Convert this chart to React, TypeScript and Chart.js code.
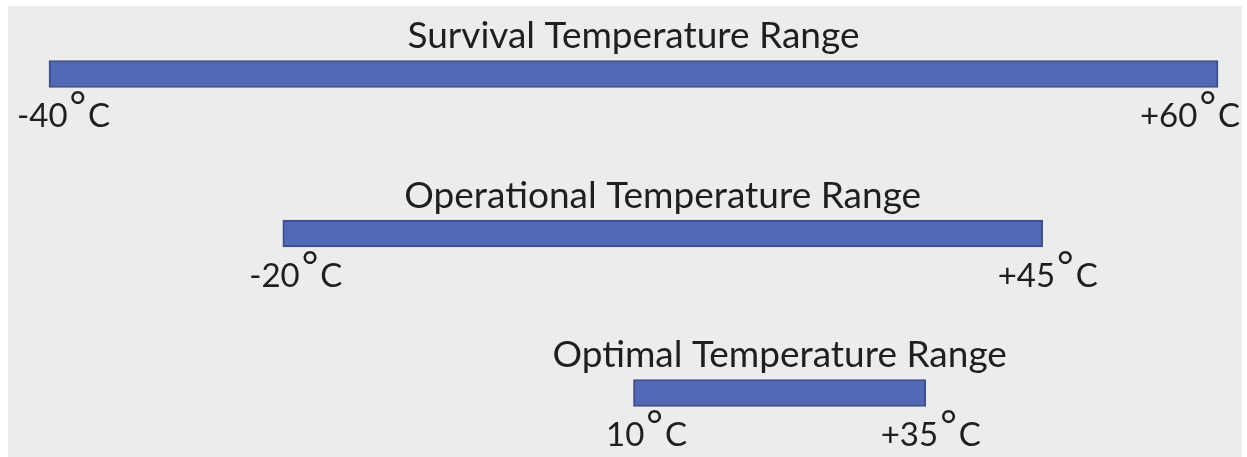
import React, { useEffect, useRef } from "react";
import { Chart, registerables } from "chart.js";

Chart.register(...registerables);

const categories = [
  "Survival Temperature Range",
  "Operational Temperature Range",
  "Optimal Temperature Range",
];
const lowTemps = [-40, -20, 10];
const highTemps = [60, 45, 35];
const lowLabels = ["-40", "-20", "10"];
const highLabels = ["+60", "+45", "+35"];
const axisMin = -40;
const axisMax = 60;

const FONT = "Lato, 'Open Sans', sans-serif";
const TEXT_COLOR = "#1f1f1f";

function drawTemp(ctx: CanvasRenderingContext2D, num: string, anchor: number, baseline: number, minX: number, maxX: number) {
  ctx.save();
  ctx.fillStyle = TEXT_COLOR;
  ctx.textAlign = "left";
  ctx.textBaseline = "alphabetic";
  const numFont = `33px ${FONT}`;
  const degFont = `40px ${FONT}`;
  ctx.font = numFont;
  const wNum = ctx.measureText(num).width;
  const wC = ctx.measureText("C").width;
  ctx.font = degFont;
  const wDeg = ctx.measureText("°").width;
  const gap = 2;
  const total = wNum + gap + wDeg + gap + wC;
  let left = anchor - total / 2;
  if (left < minX) left = minX;
  if (left + total > maxX) left = maxX - total;
  ctx.font = numFont;
  ctx.fillText(num, left, baseline);
  ctx.font = degFont;
  ctx.fillText("°", left + wNum + gap, baseline - 7);
  ctx.font = numFont;
  ctx.fillText("C", left + wNum + gap + wDeg + gap, baseline);
  ctx.restore();
}

const labelPlugin = {
  id: "rangeLabels",
  afterDatasetsDraw(chart: any) {
    const ctx: CanvasRenderingContext2D = chart.ctx;
    const xs = chart.scales.x;
    const ys = chart.scales.y;
    const w = chart.width;
    categories.forEach((name, i) => {
      const cy = ys.getPixelForValue(i);
      const x0 = xs.getPixelForValue(lowTemps[i]);
      const x1 = xs.getPixelForValue(highTemps[i]);
      ctx.save();
      ctx.fillStyle = TEXT_COLOR;
      ctx.font = `37px ${FONT}`;
      ctx.textAlign = "center";
      ctx.textBaseline = "alphabetic";
      ctx.fillText(name, (x0 + x1) / 2, cy - 26);
      ctx.restore();
      drawTemp(ctx, lowLabels[i], x0 + 13, cy + 53, 9, w - 2);
      drawTemp(ctx, highLabels[i], x1 + 5, cy + 53, 9, w - 2);
    });
  },
};

export default function App() {
  const ref = useRef<HTMLCanvasElement | null>(null);
  useEffect(() => {
    if (!ref.current) return;
    const chart = new Chart(ref.current, {
      type: "bar",
      data: {
        labels: categories,
        datasets: [
          {
            data: lowTemps.map((lo, i) => [lo, highTemps[i]]) as any,
            backgroundColor: "#5168b4",
            borderColor: "#3c4f8c",
            borderWidth: 2,
            borderSkipped: false,
            barThickness: 27,
            clip: false as any,
          },
        ],
      },
      options: {
        indexAxis: "y",
        animation: false,
        responsive: true,
        maintainAspectRatio: false,
        layout: { padding: { left: 41, right: 24, top: 68, bottom: 64 } },
        plugins: {
          legend: { display: false },
          tooltip: { enabled: false },
          title: { display: false },
        },
        scales: {
          x: { type: "linear", min: axisMin, max: axisMax, display: false },
          y: { type: "category", display: false, offset: false },
        },
      },
      plugins: [labelPlugin],
    });
    return () => chart.destroy();
  }, []);
  return (
    <div
      style={{
        position: "absolute",
        left: 8,
        top: 6,
        width: 1234,
        height: 451,
        background: "#ececec",
      }}
    >
      <canvas ref={ref} />
    </div>
  );
}
